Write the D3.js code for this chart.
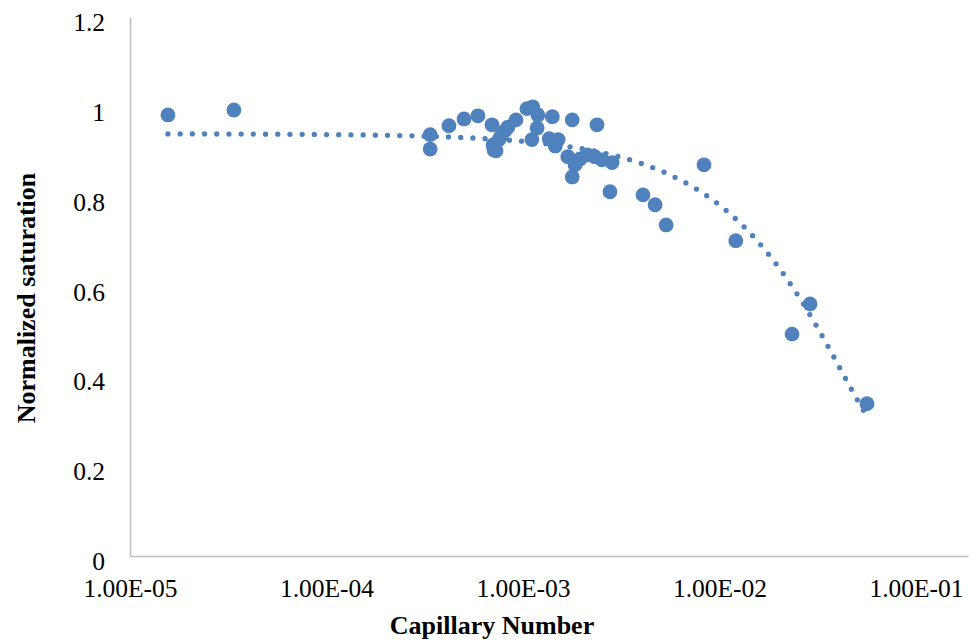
<!DOCTYPE html>
<html>
<head>
<meta charset="utf-8">
<script src="https://cdn.jsdelivr.net/npm/d3@7"></script>
<style>
  html, body { margin: 0; padding: 0; background: #fff; }
  svg { display: block; }
</style>
</head>
<body>
<svg id="chart" width="969" height="640"></svg>
<script>
// Capillary number (x) vs normalized saturation (y)
const capillaryNumber = [
  1.56e-5, 3.38e-5, 3.37e-4, 3.37e-4, 4.20e-4, 5.01e-4, 5.90e-4, 6.95e-4,
  7.04e-4, 7.12e-4, 7.29e-4, 7.55e-4, 7.73e-4, 8.09e-4, 8.39e-4, 9.21e-4,
  1.047e-3, 1.12e-3, 1.19e-3, 1.18e-3, 1.11e-3, 1.41e-3, 1.36e-3, 1.51e-3,
  1.46e-3, 1.78e-3, 2.38e-3, 1.69e-3, 1.78e-3, 1.84e-3, 1.95e-3, 2.12e-3,
  2.32e-3, 2.52e-3, 2.84e-3, 2.77e-3, 4.08e-3, 4.70e-3, 5.35e-3, 8.34e-3,
  1.21e-2, 2.89e-2, 2.34e-2, 5.63e-2
];
const normalizedSaturation = [
  0.982, 0.993, 0.938, 0.906, 0.958, 0.973, 0.980, 0.960,
  0.915, 0.904, 0.902, 0.927, 0.935, 0.947, 0.955, 0.971,
  0.996, 1.000, 0.982, 0.953, 0.927, 0.978, 0.929, 0.927,
  0.913, 0.971, 0.960, 0.889, 0.844, 0.871, 0.884, 0.893,
  0.889, 0.882, 0.876, 0.811, 0.804, 0.782, 0.737, 0.871,
  0.702, 0.561, 0.494, 0.339
];
// order-2 polynomial trendline: y = c0 + c1*x + c2*x^2 (x in linear units)
const trendCoefficients = [0.940, -16.9, 101.8];
const xTickValues = [1e-5, 1e-4, 1e-3, 1e-2, 1e-1];
const xTickLabels = ["1.00E-05", "1.00E-04", "1.00E-03", "1.00E-02", "1.00E-01"];
const yTickValues = [0, 0.2, 0.4, 0.6, 0.8, 1, 1.2];
const yTickLabels = ["0", "0.2", "0.4", "0.6", "0.8", "1", "1.2"];

const color = "#4F81BD";
const serif = "'Liberation Serif', 'Times New Roman', Times, serif";
const svg = d3.select("#chart").attr("font-family", serif);
const plot = { left: 130, top: 17, right: 968, bottom: 556 };

// log axis runs a little past 1E-01 (plot area continues to the right edge)
const decadePx = 196.5;
const xMaxLog = -5 + (plot.right - plot.left) / decadePx;
const x = d3.scaleLog().domain([1e-5, Math.pow(10, xMaxLog)]).range([plot.left, plot.right]);
const y = d3.scaleLinear().domain([0, 1.2]).range([plot.bottom, plot.top]);

// axes
const xAxis = d3.axisBottom(x).tickValues(xTickValues)
  .tickFormat((d, i) => xTickLabels[i]).tickSize(0).tickPadding(0);
const gx = svg.append("g").attr("transform", `translate(0,${plot.bottom})`).call(xAxis)
  .attr("font-family", serif).attr("font-size", 25.5);
gx.select(".domain").attr("stroke", "#bfbfbf").attr("stroke-width", 1.6);
gx.selectAll("text").attr("y", 41).attr("dy", 0).attr("fill", "#000");

const yAxis = d3.axisLeft(y).tickValues(yTickValues)
  .tickFormat((d, i) => yTickLabels[i]).tickSize(0).tickPadding(25);
const gy = svg.append("g").attr("transform", `translate(${plot.left},0)`).call(yAxis)
  .attr("font-family", serif).attr("font-size", 25.5);
gy.select(".domain").attr("stroke", "#bfbfbf").attr("stroke-width", 1.6);
gy.selectAll("text").attr("dy", "0.53em").attr("fill", "#000");

// trendline path spanning the data range
const xMin = d3.min(capillaryNumber), xMax = d3.max(capillaryNumber);
const trendX = d3.range(0, 301).map(i =>
  Math.pow(10, Math.log10(xMin) + (Math.log10(xMax) - Math.log10(xMin)) * i / 300));
const trendY = v => trendCoefficients[0] + trendCoefficients[1] * v + trendCoefficients[2] * v * v;
const trendLine = d3.line().x(d => x(d)).y(d => y(trendY(d)));

// markers
svg.append("g").selectAll("circle")
  .data(capillaryNumber.map((c, i) => [c, normalizedSaturation[i]]))
  .join("circle")
  .attr("cx", d => x(d[0]))
  .attr("cy", d => y(d[1]))
  .attr("r", 7.4)
  .attr("fill", color);

svg.append("path")
  .attr("d", trendLine(trendX))
  .attr("fill", "none")
  .attr("stroke", color)
  .attr("stroke-width", 5.3)
  .attr("stroke-linecap", "round")
  .attr("stroke-dasharray", "0 12.2");

// axis titles
svg.append("text")
  .attr("x", 492).attr("y", 634)
  .attr("text-anchor", "middle")
  .attr("font-size", 26).attr("font-weight", "bold")
  .text("Capillary Number");

svg.append("text")
  .attr("transform", "translate(35,298) rotate(-90)")
  .attr("text-anchor", "middle")
  .attr("font-size", 26).attr("font-weight", "bold")
  .text("Normalized saturation");
</script>
</body>
</html>
